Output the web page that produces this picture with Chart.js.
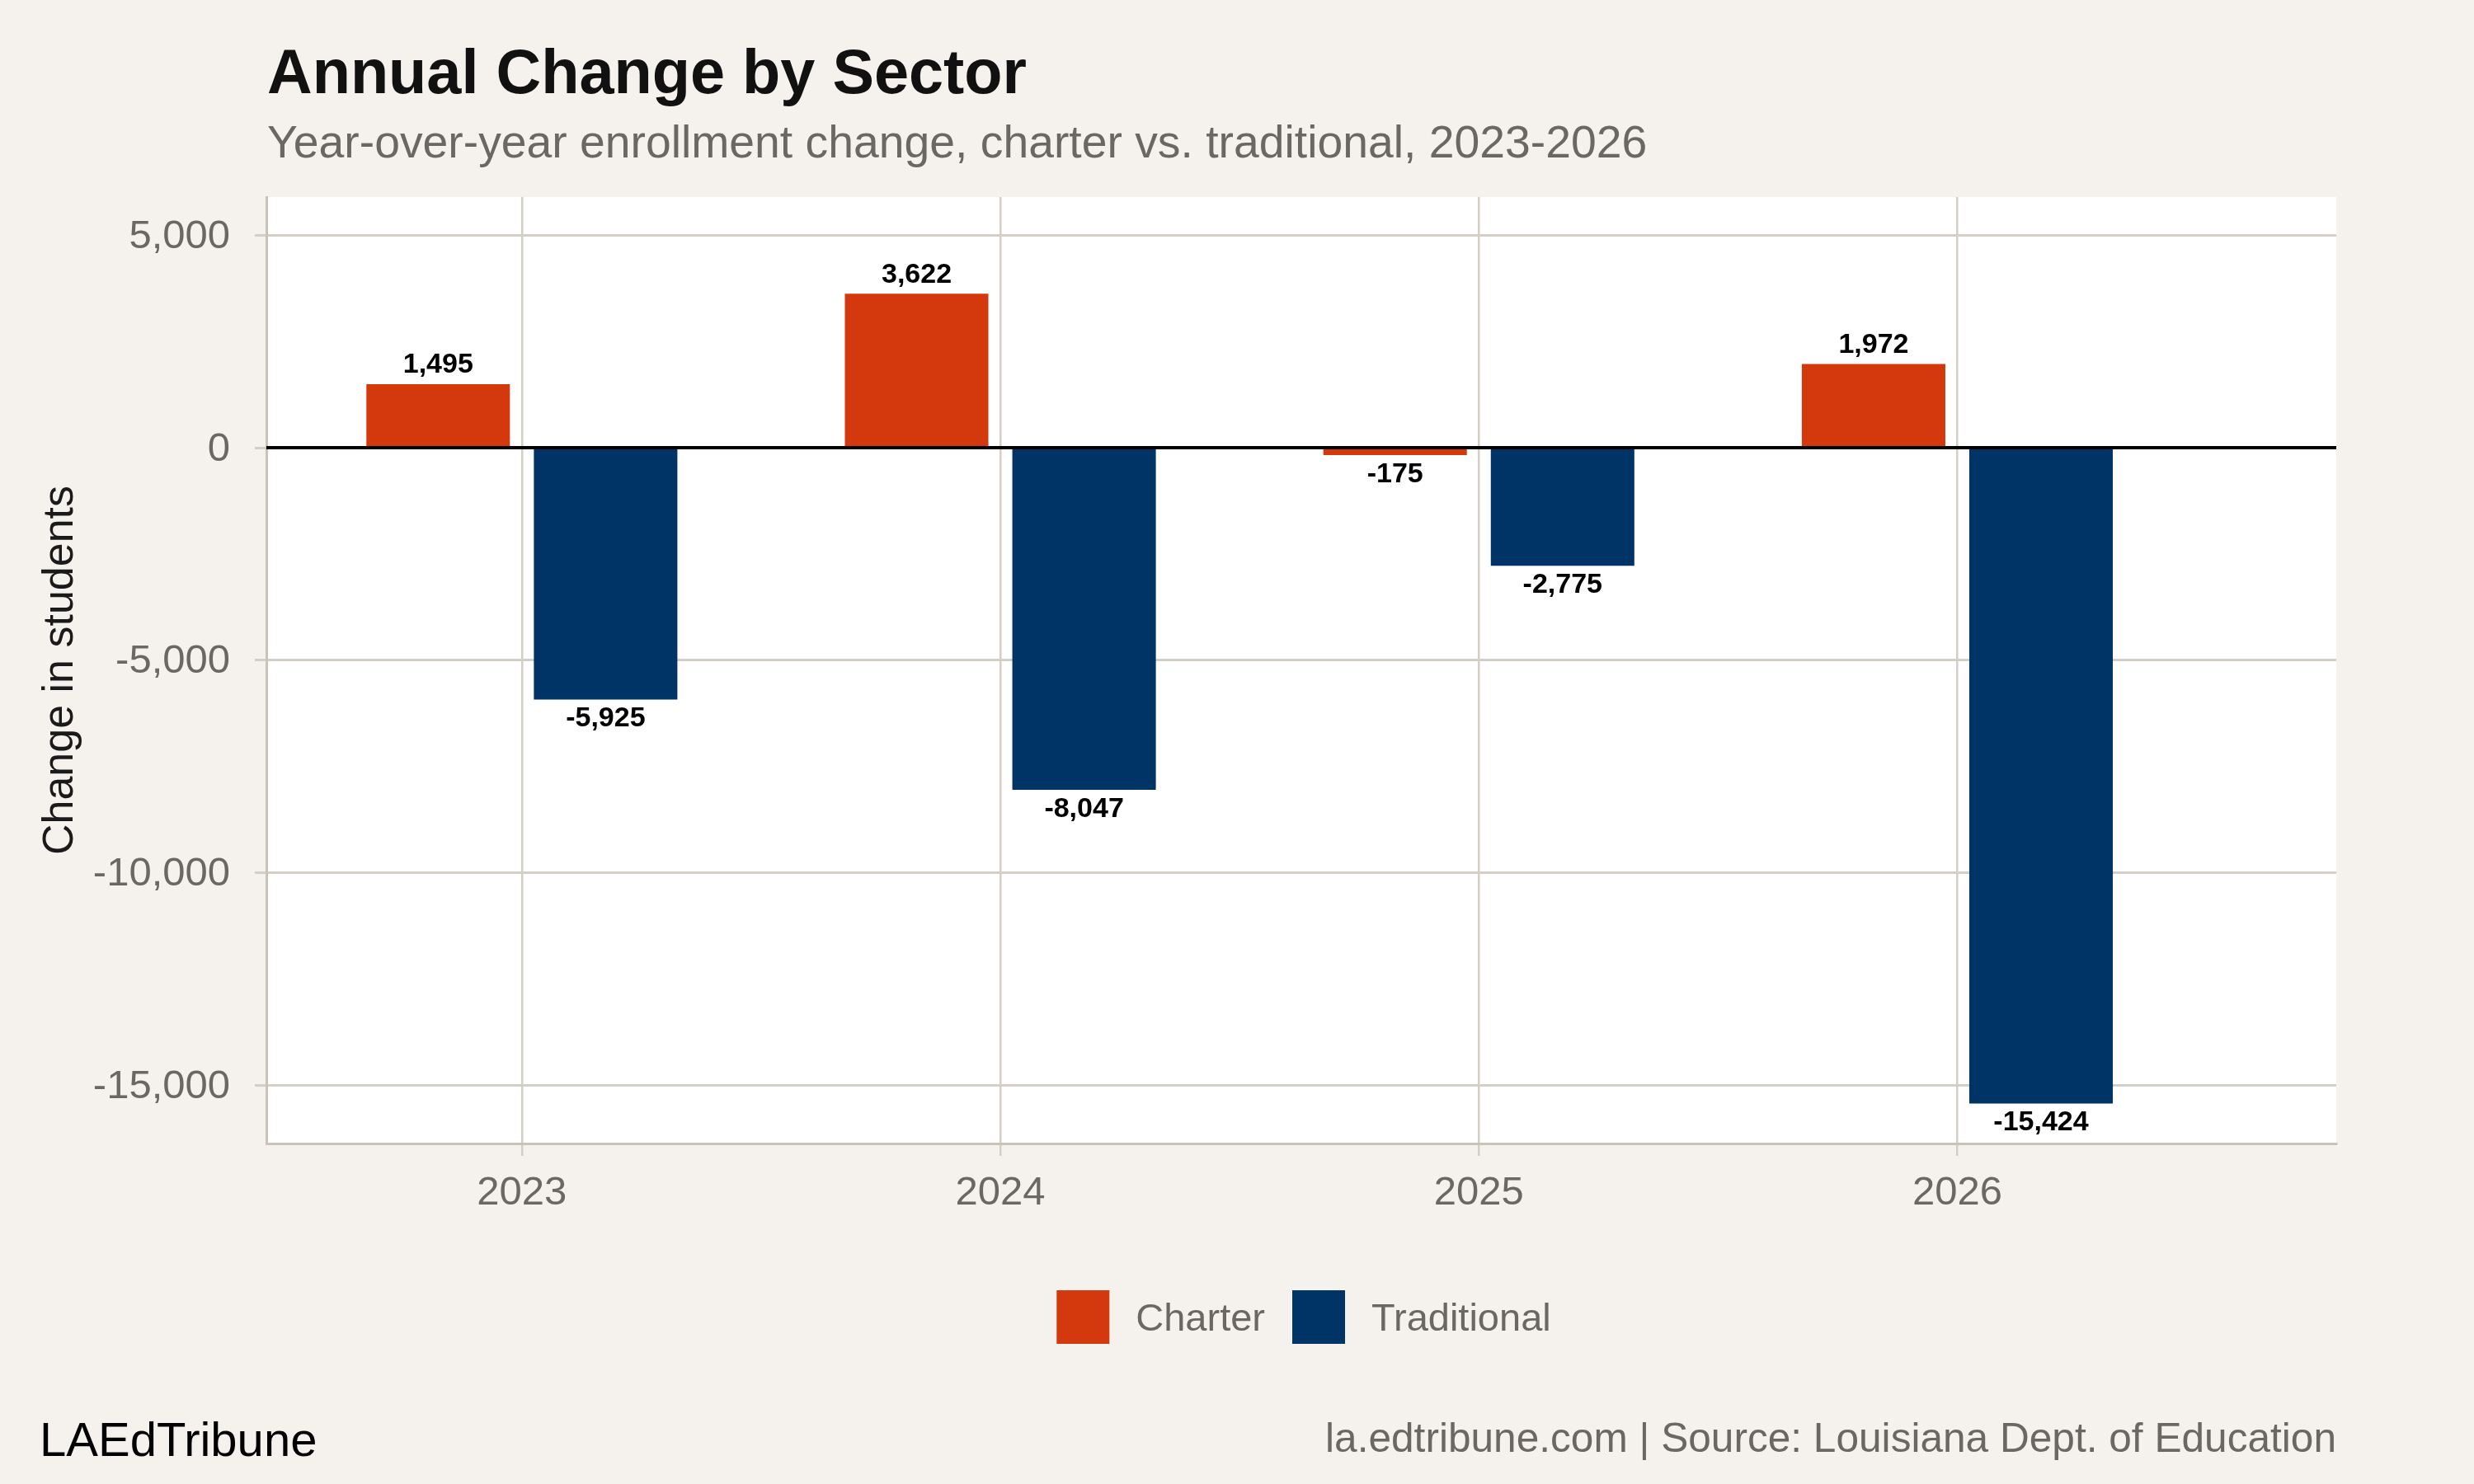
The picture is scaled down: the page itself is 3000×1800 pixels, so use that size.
<!DOCTYPE html>
<html>
<head>
<meta charset="utf-8">
<script src="https://cdn.jsdelivr.net/npm/chart.js@4.4.1/dist/chart.umd.min.js"></script>
<style>
html,body{margin:0;padding:0;background:#F5F2ED;}
canvas{display:block;}
</style>
</head>
<body>
<canvas id="c" width="3000" height="1800" style="width:3000px;height:1800px"></canvas>
<script>
// ---- data ----
const years = [2023, 2024, 2025, 2026];
const charter = [1495, 3622, -175, 1972];
const traditional = [-5925, -8047, -2775, -15424];
const seriesNames = ['Charter', 'Traditional'];
const seriesColors = ['#D4390E', '#003366'];
const yTicks = [-15000, -10000, -5000, 0, 5000];
const yRange = [-16366, 5897];
const xRange = [2022.466, 2026.792];

const titleText = 'Annual Change by Sector';
const subtitleText = 'Year-over-year enrollment change, charter vs. traditional, 2023-2026';
const yTitleText = 'Change in students';
const footLeft = 'LAEdTribune';
const footRight = 'la.edtribune.com | Source: Louisiana Dept. of Education';

const FONT = "'Liberation Sans', Arial, Helvetica, sans-serif";
const GRAY = '#6B6862';
const GRID = '#D3CEC6';
const AXIS = '#C9C3BA';
Chart.defaults.font.family = FONT;

const fmt = v => v.toLocaleString('en-US');

const deco = {
  id: 'deco',
  beforeDraw(chart) {
    const {ctx, chartArea: a} = chart;
    ctx.save();
    ctx.fillStyle = '#F5F2ED';
    ctx.fillRect(0, 0, chart.width, chart.height);
    ctx.fillStyle = '#FFFFFF';
    ctx.fillRect(a.left, a.top, a.right - a.left, a.bottom - a.top);
    ctx.restore();
  },
  afterDatasetsDraw(chart) {
    const {ctx, chartArea: a, scales} = chart;
    ctx.save();
    // zero line
    const y0 = scales.y.getPixelForValue(0);
    ctx.strokeStyle = '#000000';
    ctx.lineWidth = 4;
    ctx.beginPath();
    ctx.moveTo(a.left, y0);
    ctx.lineTo(a.right, y0);
    ctx.stroke();
    // value labels
    ctx.fillStyle = '#000000';
    ctx.font = 'bold 34px ' + FONT;
    ctx.textAlign = 'center';
    ctx.textBaseline = 'alphabetic';
    chart.data.datasets.forEach((ds, di) => {
      const meta = chart.getDatasetMeta(di);
      meta.data.forEach((bar, i) => {
        const v = ds.data[i].y;
        const ty = v >= 0 ? bar.y - 13.5 : bar.y + 32.5;
        ctx.fillText(fmt(v), bar.x, ty);
      });
    });
    ctx.restore();
  },
  afterDraw(chart) {
    const {ctx, chartArea: a} = chart;
    ctx.save();
    ctx.textBaseline = 'alphabetic';
    ctx.textAlign = 'left';
    // title
    ctx.fillStyle = '#111111';
    ctx.font = 'bold 75.7px ' + FONT;
    ctx.fillText(titleText, a.left + 1, 113);
    // subtitle
    ctx.fillStyle = GRAY;
    ctx.font = '55.3px ' + FONT;
    ctx.fillText(subtitleText, a.left + 1, 191);
    // y axis title
    ctx.save();
    ctx.fillStyle = '#1A1A1A';
    ctx.font = '52px ' + FONT;
    ctx.translate(88, (a.top + a.bottom) / 2);
    ctx.rotate(-Math.PI / 2);
    ctx.textAlign = 'center';
    ctx.fillText(yTitleText, 0, 0);
    ctx.restore();
    // legend
    ctx.font = '47px ' + FONT;
    const boxW = 64, boxH = 65, gapText = 32, gapItem = 33;
    const widths = seriesNames.map(n => ctx.measureText(n).width);
    const total = widths.reduce((s, w) => s + boxW + gapText + w, 0) + gapItem * (seriesNames.length - 1);
    let lx = (a.left + a.right) / 2 - total / 2 + 3;
    const boxTop = 1565;
    seriesNames.forEach((n, i) => {
      ctx.fillStyle = seriesColors[i];
      ctx.fillRect(lx, boxTop, boxW, boxH);
      ctx.fillStyle = GRAY;
      ctx.textAlign = 'left';
      ctx.fillText(n, lx + boxW + gapText, 1614);
      lx += boxW + gapText + widths[i] + gapItem;
    });
    // footers
    ctx.fillStyle = '#000000';
    ctx.font = '58px ' + FONT;
    ctx.textAlign = 'left';
    ctx.fillText(footLeft, 48, 1766);
    ctx.fillStyle = GRAY;
    ctx.font = '49.6px ' + FONT;
    ctx.textAlign = 'right';
    ctx.fillText(footRight, a.right, 1761);
    ctx.restore();
  }
};

new Chart(document.getElementById('c'), {
  type: 'bar',
  data: {
    datasets: [
      {label: seriesNames[0], data: years.map((x, i) => ({x, y: charter[i]})), backgroundColor: seriesColors[0], borderWidth: 0},
      {label: seriesNames[1], data: years.map((x, i) => ({x, y: traditional[i]})), backgroundColor: seriesColors[1], borderWidth: 0}
    ]
  },
  options: {
    responsive: false,
    devicePixelRatio: 1,
    animation: false,
    layout: {padding: {top: 239, right: 167, bottom: 268, left: 0}},
    datasets: {bar: {categoryPercentage: 0.7, barPercentage: 0.857}},
    plugins: {legend: {display: false}, title: {display: false}, tooltip: {enabled: false}},
    scales: {
      x: {
        type: 'linear',
        min: xRange[0],
        max: xRange[1],
        offset: false,
        grid: {offset: false, color: GRID, lineWidth: 2.5, drawTicks: true, tickLength: 15, tickColor: GRID, tickWidth: 2.5},
        border: {display: true, color: AXIS, width: 3},
        ticks: {font: {size: 49}, color: GRAY, padding: 16, maxRotation: 0, autoSkip: false, callback: v => String(v)},
        afterBuildTicks: s => { s.ticks = years.map(v => ({value: v})); },
        afterFit: s => { s.height = 145; }
      },
      y: {
        type: 'linear',
        min: yRange[0],
        max: yRange[1],
        grid: {color: GRID, lineWidth: 3, drawTicks: true, tickLength: 14, tickColor: GRID, tickWidth: 3},
        border: {display: true, color: AXIS, width: 3},
        ticks: {font: {size: 49}, color: GRAY, padding: 30, labelOffset: 2, callback: v => fmt(v)},
        afterBuildTicks: s => { s.ticks = yTicks.map(v => ({value: v})); },
        afterFit: s => { s.width = 323; }
      }
    }
  },
  plugins: [deco]
});
</script>
</body>
</html>
